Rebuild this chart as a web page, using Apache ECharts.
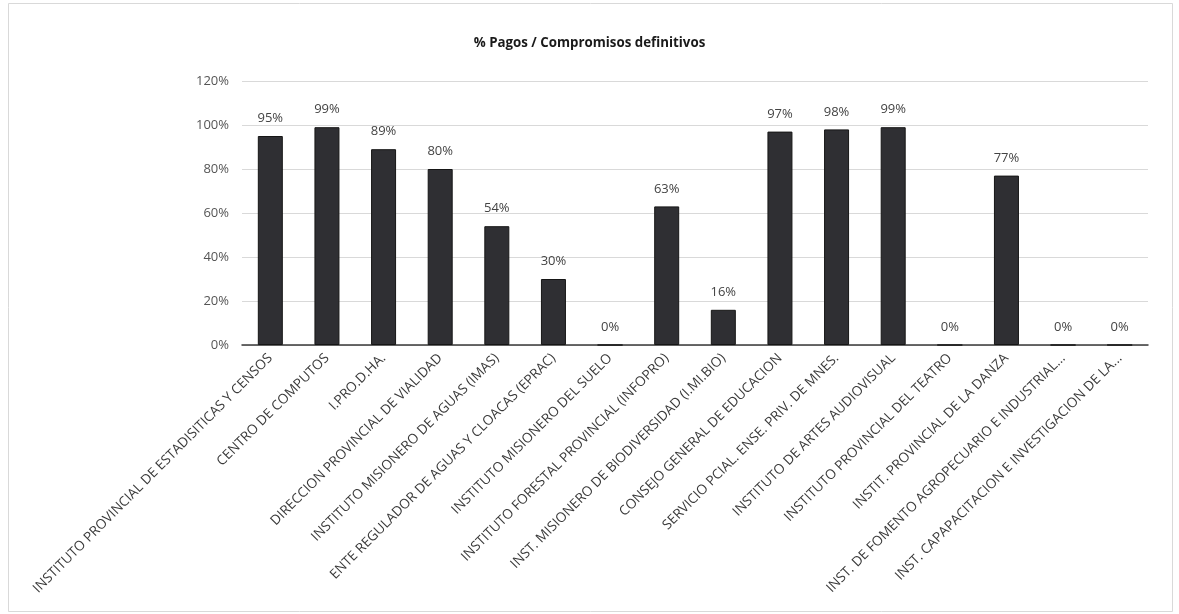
<!DOCTYPE html>
<html>
<head>
<meta charset="utf-8">
<script src="https://cdn.jsdelivr.net/npm/echarts@6/dist/echarts.min.js"></script>
<style>
  html, body { margin: 0; padding: 0; background: #ffffff; }
  #chart { width: 1179px; height: 614px; }
</style>
</head>
<body>
<div id="chart"></div>
<script>
const chartTitle = "% Pagos / Compromisos definitivos";
const categories = [
  "INSTITUTO PROVINCIAL DE ESTADISITICAS Y CENSOS",
  "CENTRO DE COMPUTOS",
  "I.PRO.D.HA.",
  "DIRECCION PROVINCIAL DE VIALIDAD",
  "INSTITUTO MISIONERO DE AGUAS (IMAS)",
  "ENTE REGULADOR DE AGUAS Y CLOACAS (EPRAC)",
  "INSTITUTO MISIONERO DEL SUELO",
  "INSTITUTO FORESTAL PROVINCIAL (INFOPRO)",
  "INST. MISIONERO DE BIODIVERSIDAD (I.MI.BIO)",
  "CONSEJO GENERAL DE EDUCACION",
  "SERVICIO PCIAL. ENSE. PRIV. DE MNES.",
  "INSTITUTO DE ARTES AUDIOVISUAL",
  "INSTITUTO PROVINCIAL DEL TEATRO",
  "INSTIT. PROVINCIAL DE LA DANZA",
  "INST. DE FOMENTO AGROPECUARIO E INDUSTRIAL...",
  "INST. CAPAPACITACION E INVESTIGACION DE LA..."
];
const pagosPct = [95, 99, 89, 80, 54, 30, 0, 63, 16, 97, 98, 99, 0, 77, 0, 0];
const yTicks = [0, 20, 40, 60, 80, 100, 120];

const chart = echarts.init(document.getElementById('chart'));
const FONT = "'Open Sans', 'Liberation Sans', sans-serif";
chart.setOption({
  animation: false,
  backgroundColor: '#ffffff',
  title: {
    text: chartTitle,
    left: 'center',
    top: 32,
    textStyle: { fontFamily: FONT, fontSize: 13.3, fontWeight: 'bold', color: '#1a1a1a' }
  },
  graphic: [{
    type: 'rect',
    shape: { x: 8.5, y: 3.5, width: 1164, height: 608 },
    style: { fill: 'none', stroke: '#d9d9d9', lineWidth: 1 },
    silent: true
  }],
  grid: { left: 242, right: 31, top: 81, bottom: 269, containLabel: false },
  xAxis: {
    type: 'category',
    data: categories,
    axisLine: { show: true, lineStyle: { color: '#3a3a3a', width: 1.5 } },
    axisTick: { show: false },
    axisLabel: {
      interval: 0,
      rotate: 45,
      margin: 11,
      fontFamily: FONT,
      fontSize: 13.6,
      color: '#3a3a3a'
    }
  },
  yAxis: {
    type: 'value',
    min: yTicks[0],
    max: yTicks[yTicks.length - 1],
    interval: 20,
    axisLine: { show: false },
    axisTick: { show: false },
    axisLabel: {
      formatter: '{value}%',
      margin: 13,
      fontFamily: FONT,
      fontSize: 13,
      color: '#555555'
    },
    splitLine: { lineStyle: { color: '#d9d9d9', width: 1 } }
  },
  series: [{
    type: 'bar',
    data: pagosPct,
    barWidth: 25,
    itemStyle: { color: '#2f2f33', borderColor: '#161616', borderWidth: 1 },
    label: {
      show: true,
      position: 'top',
      distance: 11,
      formatter: '{c}%',
      fontFamily: FONT,
      fontSize: 13,
      color: '#444444'
    }
  }]
});
</script>
</body>
</html>
